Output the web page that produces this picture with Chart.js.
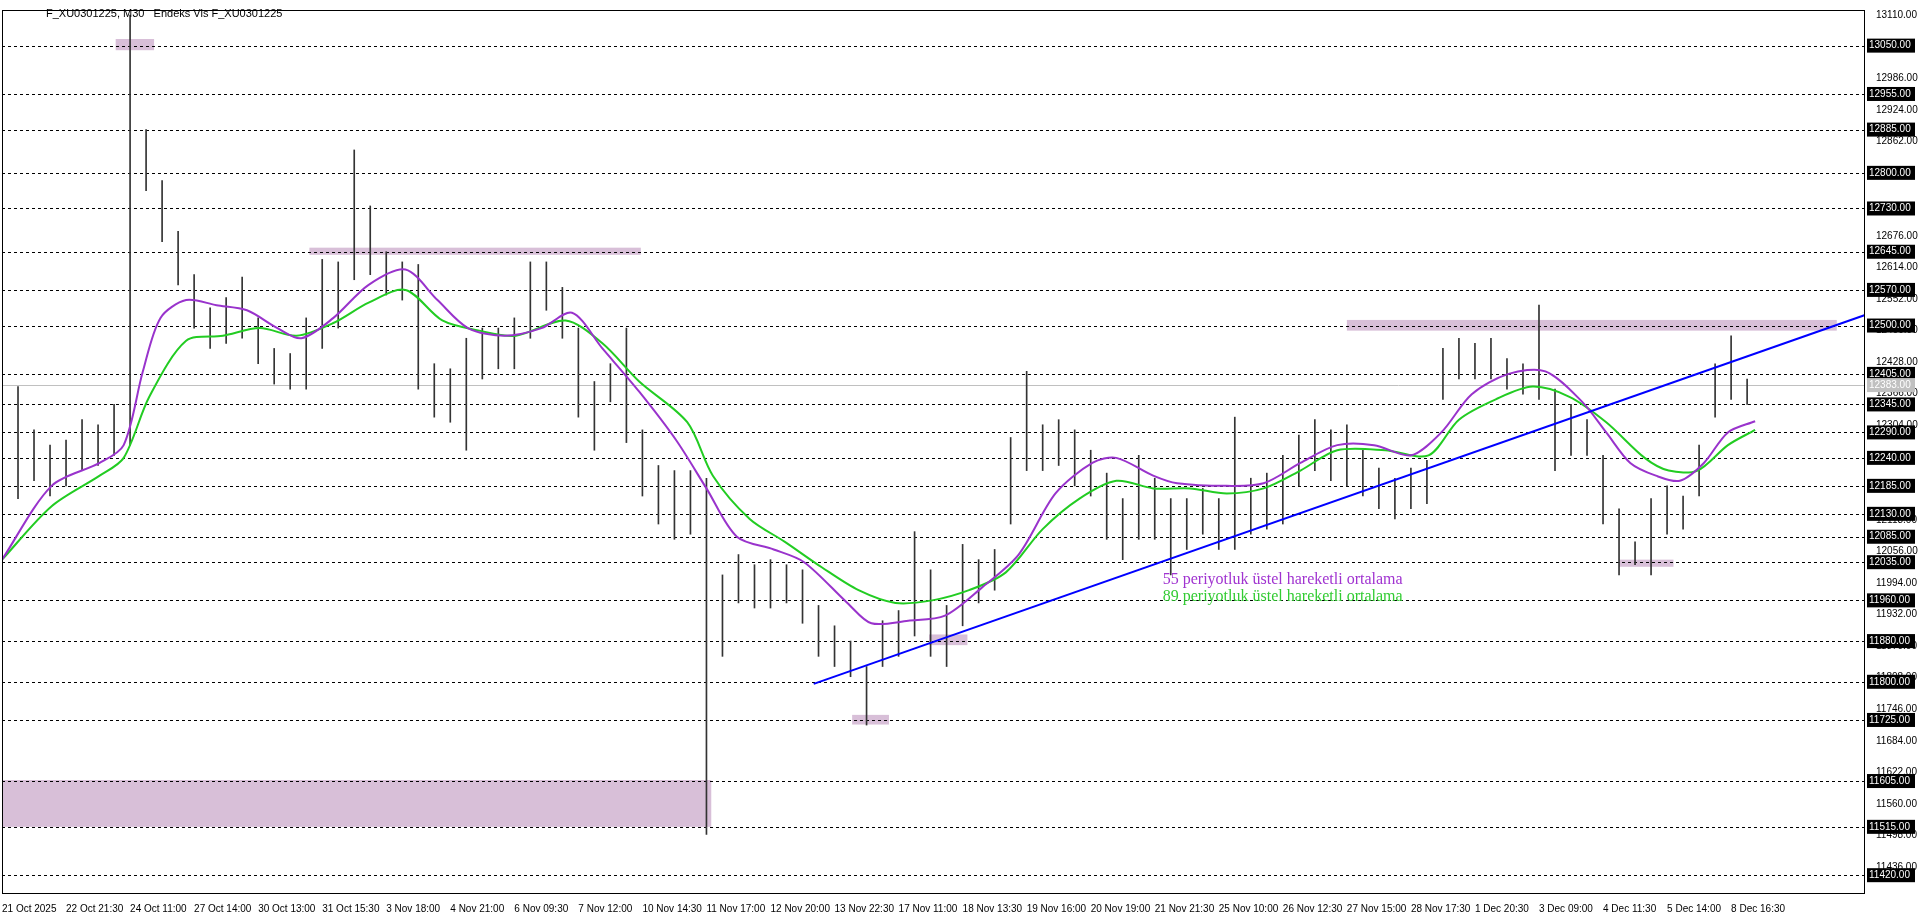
<!DOCTYPE html>
<html>
<head>
<meta charset="utf-8">
<script src="https://cdn.jsdelivr.net/npm/chart.js@4"></script>
<style>
  body { margin: 0; background: #fff; }
  #wrap { width: 1920px; height: 923px; position: relative; }
  #title { position: absolute; left: 46px; top: 7px; font: 11px "Liberation Sans", sans-serif; color: #000; }
</style>
</head>
<body>
<div id="wrap">
  <canvas id="chart" width="1920" height="923"></canvas>
  <div id="title">F_XU0301225, M30&nbsp;&nbsp;&nbsp;Endeks Vis F_XU0301225</div>
</div>
<script>
// time labels, one every 4 bars
const timeLabels = ['21 Oct 2025', '22 Oct 21:30', '24 Oct 11:00', '27 Oct 14:00', '30 Oct 13:00', '31 Oct 15:30',
  '3 Nov 18:00', '4 Nov 21:00', '6 Nov 09:30', '7 Nov 12:00', '10 Nov 14:30', '11 Nov 17:00', '12 Nov 20:00',
  '13 Nov 22:30', '17 Nov 11:00', '18 Nov 13:30', '19 Nov 16:00', '20 Nov 19:00', '21 Nov 21:30', '25 Nov 10:00',
  '26 Nov 12:30', '27 Nov 15:00', '28 Nov 17:30', '1 Dec 20:30', '3 Dec 09:00', '4 Dec 11:30', '5 Dec 14:00', '8 Dec 16:30'];

const lows = [12040, 12160, 12195, 12165, 12185, 12215, 12225, 12245, 12265, 12765, 12665, 12580, 12495, 12455, 12465, 12475,
  12425, 12385, 12375, 12375, 12455, 12495, 12590, 12600, 12560, 12550, 12375, 12320, 12310, 12255, 12395, 12415,
  12415, 12475, 12530, 12475, 12320, 12255, 12350, 12270, 12165, 12110, 12080, 12090, 11500, 11850, 11955, 11945,
  11945, 11955, 11915, 11850, 11830, 11810, 11715, 11830, 11850, 11890, 11850, 11830, 11910, 11955, 11980, 12110,
  12215, 12215, 12225, 12185, 12165, 12080, 12040, 12080, 12080, 12010, 12060, 12090, 12060, 12060, 12090, 12100,
  12110, 12185, 12215, 12195, 12185, 12165, 12140, 12120, 12140, 12150, 12355, 12395, 12395, 12395, 12375, 12365,
  12355, 12215, 12245, 12245, 12110, 12010, 12030, 12010, 12090, 12100, 12165, 12320, 12355, 12345];
const highs = [12100, 12380, 12295, 12265, 12275, 12315, 12305, 12345, 13110, 12885, 12785, 12685, 12600, 12535, 12555, 12595,
  12515, 12455, 12445, 12515, 12630, 12625, 12845, 12735, 12645, 12625, 12620, 12425, 12415, 12475, 12495, 12495,
  12515, 12625, 12625, 12575, 12495, 12390, 12425, 12495, 12295, 12225, 12215, 12215, 12200, 12010, 12050, 12030,
  12040, 12030, 12020, 11950, 11910, 11880, 11830, 11920, 11940, 12095, 12020, 11950, 12070, 12040, 12060, 12280,
  12410, 12305, 12315, 12295, 12255, 12210, 12160, 12245, 12200, 12160, 12160, 12180, 12160, 12320, 12200, 12210,
  12245, 12285, 12315, 12295, 12305, 12255, 12220, 12200, 12220, 12235, 12455, 12475, 12465, 12475, 12435, 12425,
  12540, 12375, 12345, 12315, 12245, 12140, 12075, 12160, 12185, 12165, 12265, 12425, 12480, 12395];

const ema55Idx = [0, 3.1, 6.1, 7.6, 8.8, 9.9, 11.5, 13.4, 15.3, 17.2, 18.7, 20.7, 22.9, 25.2, 27.2, 29.1, 31.4, 33.7, 35.6,
  37.5, 39.8, 42.1, 44, 45.9, 48.2, 50.1, 52.8, 54.3, 56.6, 58.9, 61.2, 63.5, 65.8, 68.1, 69.6, 71.9, 73.4, 76.5, 78.8,
  81.1, 83.4, 85.7, 88, 89.9, 91.8, 94.1, 96.4, 98.7, 100.2, 101.7, 103.3, 104.8, 106.3, 107.8, 109.5];
const ema55 = [12040, 12185, 12230, 12265, 12410, 12515, 12550, 12540, 12530, 12495, 12475, 12515, 12580, 12610, 12550, 12495,
  12480, 12495, 12525, 12455, 12370, 12275, 12180, 12085, 12060, 12035, 11955, 11915, 11920, 11930, 11985, 12050, 12170,
  12230, 12240, 12205, 12190, 12185, 12190, 12230, 12265, 12265, 12245, 12290, 12365, 12405, 12410, 12350, 12290, 12230,
  12205, 12195, 12230, 12290, 12312];
const ema89Idx = [0, 3.1, 6.1, 7.6, 9.2, 11.5, 13.8, 16.1, 18.4, 20.7, 22.9, 25.2, 27.5, 29.8, 32.1, 35.2, 37.5, 39.8, 42.8,
  44.4, 46.7, 48.9, 51.2, 53.5, 55.8, 58.1, 60.4, 62.7, 65, 67.3, 69.6, 71.9, 74.2, 76.5, 78.8, 81.1, 83.4, 86.4, 89.1,
  91, 93.3, 95.6, 97.9, 100.2, 102.6, 104.1, 105.9, 107.8, 109.5];
const ema89 = [12040, 12145, 12205, 12240, 12360, 12470, 12480, 12495, 12480, 12505, 12545, 12570, 12510, 12490, 12480, 12510,
  12465, 12390, 12310, 12205, 12120, 12075, 12025, 11980, 11955, 11960, 11980, 12015, 12100, 12160, 12195, 12180, 12180,
  12170, 12180, 12215, 12255, 12255, 12245, 12315, 12355, 12380, 12360, 12310, 12240, 12215, 12215, 12265, 12295];

const trendIdx = [50.7, 116.4];
const trendVal = [11796, 12521];

// boxes: [x1, x2, lowPrice, highPrice]
const zones = [[7.1, 9.5, 13041, 13063], [19.2, 39.9, 12639, 12653], [84, 114.6, 12490, 12511], [53.1, 55.4, 11716, 11735],
  [57.9, 60.3, 11872, 11893], [101, 104.4, 12026, 12040], [0, 44.3, 11515, 11607]];

const levelLines = [13050, 12955, 12885, 12800, 12730, 12645, 12570, 12500, 12405, 12345, 12290, 12240, 12185, 12130, 12085,
  12035, 11960, 11880, 11800, 11725, 11605, 11515, 11420];
const plainTicks = [13110, 12986, 12924, 12862, 12676, 12614, 12552, 12490, 12428, 12366, 12304, 12118, 12056, 11994, 11932,
  11870, 11808, 11746, 11684, 11622, 11560, 11498, 11436];
const lastPrice = 12383;

const axisFont = '"Liberation Sans", sans-serif';

const zonePlugin = {
  id: 'zones',
  beforeDatasetsDraw(chart) {
    const { ctx, chartArea, scales: { x, y } } = chart;
    ctx.save();
    ctx.beginPath();
    ctx.rect(chartArea.left, chartArea.top, chartArea.width, chartArea.height);
    ctx.clip();
    ctx.fillStyle = 'rgb(216,191,216)';
    zones.forEach(z => {
      const x1 = x.getPixelForValue(z[0]), x2 = x.getPixelForValue(z[1]);
      const y1 = y.getPixelForValue(z[3]), y2 = y.getPixelForValue(z[2]);
      ctx.fillRect(x1, y1, x2 - x1, y2 - y1);
    });
    ctx.strokeStyle = '#000';
    ctx.lineWidth = 1;
    ctx.setLineDash([3, 3]);
    levelLines.forEach(v => {
      const py = Math.round(y.getPixelForValue(v)) + 0.5;
      ctx.beginPath();
      ctx.moveTo(chartArea.left, py);
      ctx.lineTo(chartArea.right, py);
      ctx.stroke();
    });
    ctx.setLineDash([]);
    ctx.strokeStyle = '#c0c0c0';
    const lp = Math.round(y.getPixelForValue(lastPrice)) + 0.5;
    ctx.beginPath();
    ctx.moveTo(chartArea.left, lp);
    ctx.lineTo(chartArea.right, lp);
    ctx.stroke();
    ctx.restore();
  },
  afterDraw(chart) {
    const { ctx, chartArea, scales: { x, y } } = chart;
    ctx.save();
    ctx.strokeStyle = '#000';
    ctx.lineWidth = 1;
    ctx.strokeRect(chartArea.left + 0.5, chartArea.top + 0.5, chartArea.width, chartArea.height);
    ctx.font = '10px ' + axisFont;
    ctx.textBaseline = 'middle';
    const box = (v, bg) => {
      const py = y.getPixelForValue(v);
      ctx.fillStyle = bg;
      ctx.fillRect(chartArea.right + 3, py - 7, 48, 14);
      ctx.fillStyle = '#fff';
      ctx.fillText(v.toFixed(2), chartArea.right + 5, py);
    };
    levelLines.forEach(v => box(v, '#000'));
    box(lastPrice, '#c0c0c0');
    // text labels
    ctx.font = '16px "Liberation Serif", serif';
    ctx.textBaseline = 'alphabetic';
    ctx.fillStyle = '#a033d0';
    ctx.fillText('55 periyotluk üstel hareketli ortalama', x.getPixelForValue(72.5), y.getPixelForValue(11992));
    ctx.fillStyle = '#33cc33';
    ctx.fillText('89 periyotluk üstel hareketli ortalama', x.getPixelForValue(72.5), y.getPixelForValue(11958));
    ctx.restore();
  }
};

new Chart(document.getElementById('chart'), {
  type: 'bar',
  data: {
    labels: lows.map((_, i) => i),
    datasets: [
      {
        type: 'line', label: 'trend', data: trendIdx.map((v, i) => ({ x: v, y: trendVal[i] })),
        borderColor: '#0000ff', borderWidth: 2, pointRadius: 0, order: 0
      },
      {
        type: 'line', label: 'EMA55', data: ema55Idx.map((v, i) => ({ x: v, y: ema55[i] })),
        borderColor: '#9933cc', borderWidth: 2, pointRadius: 0, tension: 0.3, order: 1
      },
      {
        type: 'line', label: 'EMA89', data: ema89Idx.map((v, i) => ({ x: v, y: ema89[i] })),
        borderColor: '#22cc22', borderWidth: 2, pointRadius: 0, tension: 0.3, order: 2
      },
      {
        type: 'bar', label: 'price', data: lows.map((l, i) => ({ x: i, y: [l, highs[i]] })),
        backgroundColor: '#333', barThickness: 1, order: 3
      }
    ]
  },
  options: {
    responsive: false,
    animation: false,
    layout: { padding: { left: 0, top: 0, right: 0, bottom: 0 } },
    plugins: { legend: { display: false }, tooltip: { enabled: false } },
    scales: {
      x: {
        type: 'linear', min: 0, max: 116.3, offset: false,
        grid: { display: false, drawTicks: true },
        border: { display: false },
        afterBuildTicks: s => { s.ticks = timeLabels.map((_, i) => ({ value: i * 4 })); },
        ticks: {
          autoSkip: false, maxRotation: 0, align: 'start', padding: 2,
          font: { family: axisFont, size: 10 }, color: '#000',
          callback: v => timeLabels[v / 4]
        },
        afterFit: s => { s.height = 30; }
      },
      y: {
        position: 'right', min: 11385, max: 13120,
        grid: { display: false },
        border: { display: false },
        afterBuildTicks: s => { s.ticks = plainTicks.map(v => ({ value: v })); },
        ticks: {
          autoSkip: false, padding: 4, font: { family: axisFont, size: 10 }, color: '#000',
          callback: v => v.toFixed(2)
        },
        afterFit: s => { s.width = 56; }
      }
    }
  },
  plugins: [zonePlugin]
});
</script>
</body>
</html>
